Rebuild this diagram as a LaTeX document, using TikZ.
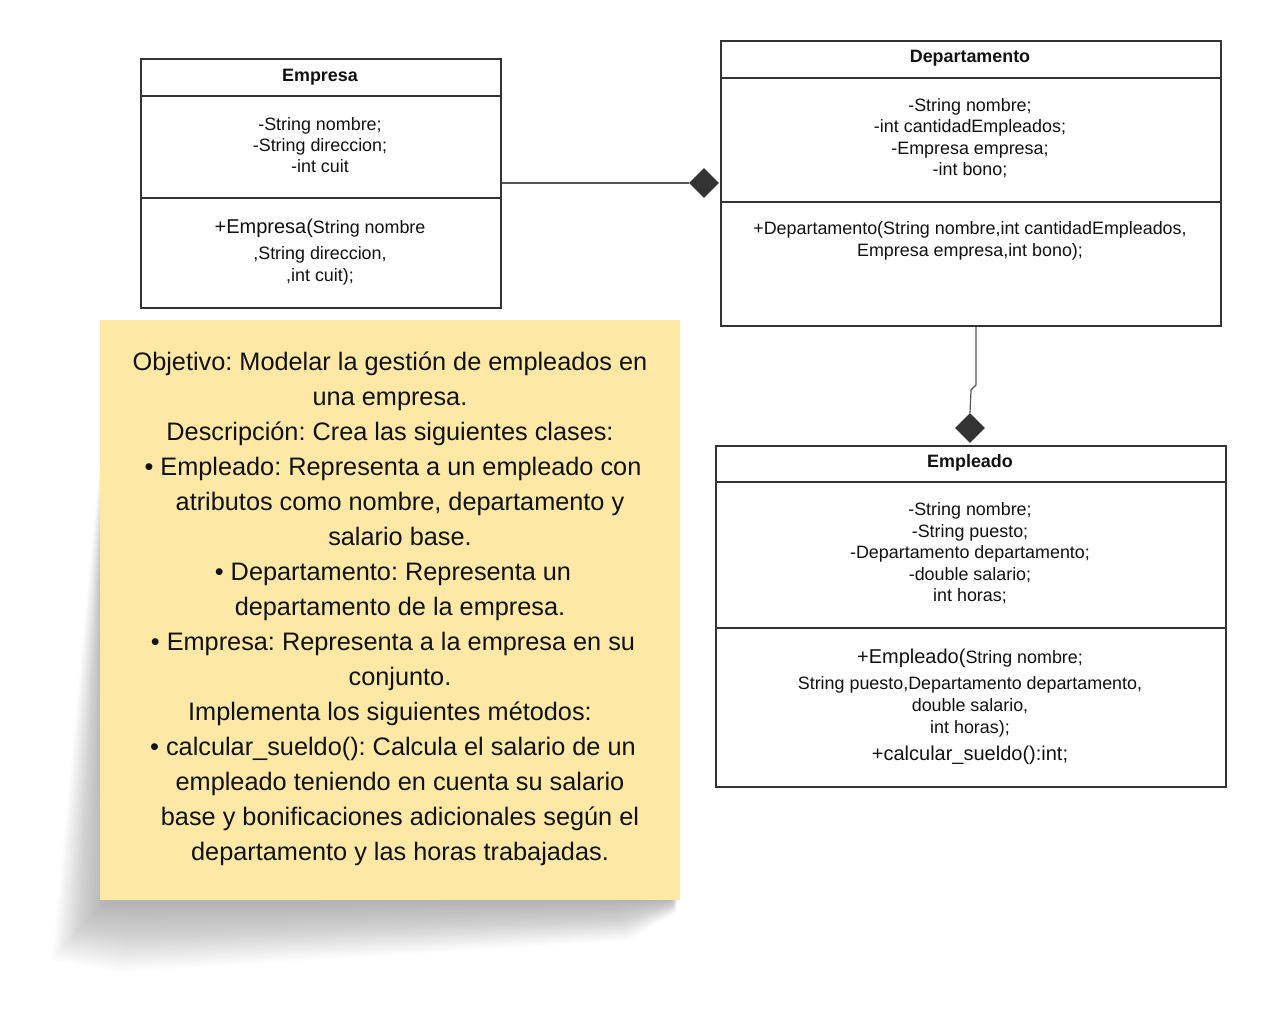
\documentclass[tikz,border=0pt]{standalone}
\usepackage{fontspec}
\setmainfont{Liberation Sans}
\usetikzlibrary{calc,shapes.geometric}
\definecolor{linec}{HTML}{333333}
\definecolor{connc}{HTML}{555555}
\definecolor{stickyc}{HTML}{FDE8A6}
\definecolor{txtc}{HTML}{111111}
\newcommand{\bigtxt}[1]{{\fontsize{20}{21}\selectfont #1}}
\frenchspacing
\begin{document}
\begin{tikzpicture}[x=1pt,y=-1pt,
  clsbox/.style={draw=linec, line width=2pt, fill=white, inner sep=0pt, anchor=north west},
  divline/.style={draw=linec, line width=2pt},
  ctxt/.style={anchor=base, inner sep=0pt, text=txtc, font=\fontsize{17.9}{21}\selectfont},
  hdr/.style={anchor=base, inner sep=0pt, text=txtc, font=\fontsize{17.9}{21}\selectfont\bfseries},
  ntxt/.style={anchor=base, inner sep=0pt, text=txtc, font=\fontsize{25.3}{35}\selectfont},
  conn/.style={draw=connc, line width=1.2pt},
  compo/.style={diamond, fill=linec, draw=none, inner sep=0pt, minimum width=30pt, minimum height=30pt}
]
\useasboundingbox (0,0) rectangle (1265,1009);

% ---------- class Empresa ----------
\node[clsbox, minimum width=360pt, minimum height=249pt] (emp) at (140,58) {};
\draw[divline] (140,96) -- (500,96);
\draw[divline] (140,198) -- (500,198);
\node[hdr] (empH) at (320,81) {Empresa};
\node[ctxt] (empA1) at (320,130) {-String nombre;};
\node[ctxt] (empA2) at (320,151) {-String direccion;};
\node[ctxt] (empA3) at (320,172) {-int cuit};
\node[ctxt] (empM1) at (320,233) {\bigtxt{+Empresa(}String nombre};
\node[ctxt] (empM2) at (320,259) {,String direccion,};
\node[ctxt] (empM3) at (320,281) {,int cuit);};

% ---------- class Departamento ----------
\node[clsbox, minimum width=500pt, minimum height=285pt] (dep) at (720,40) {};
\draw[divline] (720,78) -- (1220,78);
\draw[divline] (720,202) -- (1220,202);
\node[hdr] (depH) at (970,62) {Departamento};
\node[ctxt] (depA1) at (970,111) {-String nombre;};
\node[ctxt] (depA2) at (970,132) {-int cantidadEmpleados;};
\node[ctxt] (depA3) at (970,154) {-Empresa empresa;};
\node[ctxt] (depA4) at (970,175) {-int bono;};
\node[ctxt] (depM1) at (970,234) {+Departamento(String nombre,int cantidadEmpleados,};
\node[ctxt] (depM2) at (970,256) {Empresa empresa,int bono);};

% ---------- class Empleado ----------
\node[clsbox, minimum width=510pt, minimum height=341pt] (empl) at (715,445) {};
\draw[divline] (715,482) -- (1225,482);
\draw[divline] (715,628) -- (1225,628);
\node[hdr] (emplH) at (970,467) {Empleado};
\node[ctxt] (emplA1) at (970,515) {-String nombre;};
\node[ctxt] (emplA2) at (970,537) {-String puesto;};
\node[ctxt] (emplA3) at (970,558) {-Departamento departamento;};
\node[ctxt] (emplA4) at (970,580) {-double salario;};
\node[ctxt] (emplA5) at (970,601) {int horas;};
\node[ctxt] (emplM1) at (970,663) {\bigtxt{+Empleado(}String nombre;};
\node[ctxt] (emplM2) at (970,689) {String puesto,Departamento departamento,};
\node[ctxt] (emplM3) at (970,711) {double salario,};
\node[ctxt] (emplM4) at (970,733) {int horas);};
\node[ctxt] (emplM5) at (970,760) {\bigtxt{+calcular\_sueldo():int;}};

% ---------- connectors ----------
\node[compo] (d1) at (704,183) {};
\draw[conn] (emp.east |- d1.west) -- (d1.west);
\node[compo] (d2) at (970,428) {};
\draw[conn] ($(dep.south)+(5,0)$) -- ++(0,58) -- ++(-5,5) -- (d2.north);

% ---------- sticky note shadow ----------
\foreach \i in {0,...,29}{
  \pgfmathsetmacro{\t}{\i/29}
  \fill[black, fill opacity=0.013]
    ($(100,460)!\t!(100,600)$) -- ($(52,960)!\t!(106,903)$) -- ($(120,972)!\t!(140,904)$)
    -- ($(630,940)!\t!(610,902)$) -- ($(676,912)!\t!(670,900)$) -- (680,880) -- cycle;
}

% ---------- sticky note ----------
\node[fill=stickyc, inner sep=0pt, anchor=north west, minimum width=580pt, minimum height=580pt] (note) at (100,320) {};
\node[ntxt] (n1) at (390,370) {Objetivo: Modelar la gestión de empleados en};
\node[ntxt] (n2) at (390,405) {una empresa.};
\node[ntxt] (n3) at (390,440) {Descripción: Crea las siguientes clases:};
\node[ntxt] (n4) at (393,475) {• Empleado: Representa a un empleado con};
\node[ntxt] (n5) at (400,510) {atributos como nombre, departamento y};
\node[ntxt] (n6) at (400,545) {salario base.};
\node[ntxt] (n7) at (393,580) {• Departamento: Representa un};
\node[ntxt] (n8) at (400,615) {departamento de la empresa.};
\node[ntxt] (n9) at (393,650) {• Empresa: Representa a la empresa en su};
\node[ntxt] (n10) at (400,685) {conjunto.};
\node[ntxt] (n11) at (390,720) {Implementa los siguientes métodos:};
\node[ntxt] (n12) at (393,755) {• calcular\_sueldo(): Calcula el salario de un};
\node[ntxt] (n13) at (400,790) {empleado teniendo en cuenta su salario};
\node[ntxt] (n14) at (400,825) {base y bonificaciones adicionales según el};
\node[ntxt] (n15) at (400,860) {departamento y las horas trabajadas.};
\end{tikzpicture}
\end{document}
